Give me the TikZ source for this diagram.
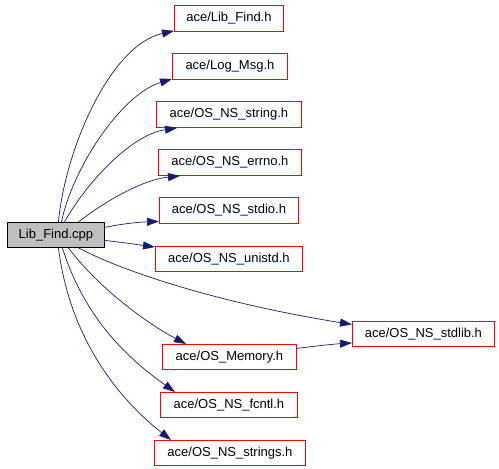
\documentclass[tikz,border=0pt]{standalone}
\usepackage{fontspec}
\setmainfont{Liberation Sans}
\usetikzlibrary{arrows.meta,calc}
\definecolor{edgeblue}{HTML}{191970}
\definecolor{cppgray}{HTML}{BFBFBF}
\begin{document}
\begin{tikzpicture}[x=1pt,y=-1pt,
  hdr/.style={draw=red,line width=0.9pt,rectangle,inner sep=0pt,anchor=north west,
     font=\fontsize{13}{15}\selectfont,minimum height=26pt},
  src/.style={hdr,draw=black,fill=cppgray},
  edge/.style={draw=edgeblue,line width=0.7pt,-{Triangle[length=12pt,width=8pt]}}]
\useasboundingbox (0,0) rectangle (499,469);
\node[src,minimum width=97pt,minimum height=25pt] (cpp) at (7,222) {Lib\_Find.cpp};
\node[hdr,minimum width=109pt] (lib) at (174,5) {ace/Lib\_Find.h};
\node[hdr,minimum width=115pt] (log) at (172,53) {ace/Log\_Msg.h};
\node[hdr,minimum width=145pt] (str) at (156,101) {ace/OS\_NS\_string.h};
\node[hdr,minimum width=143pt] (errno) at (158,149) {ace/OS\_NS\_errno.h};
\node[hdr,minimum width=139pt] (stdio) at (159,197) {ace/OS\_NS\_stdio.h};
\node[hdr,minimum width=147pt,minimum height=25pt] (unistd) at (155,246) {ace/OS\_NS\_unistd.h};
\node[hdr,minimum width=142pt,minimum height=25pt] (stdlib) at (352,321) {ace/OS\_NS\_stdlib.h};
\node[hdr,minimum width=134pt,minimum height=25pt] (mem) at (162,344) {ace/OS\_Memory.h};
\node[hdr,minimum width=137pt,minimum height=25pt] (fcntl) at (160,392) {ace/OS\_NS\_fcntl.h};
\node[hdr,minimum width=151pt,minimum height=25pt] (strs) at (154,440) {ace/OS\_NS\_strings.h};

\draw[edge] ($(cpp.north)+(2.5,0)$) .. controls (65,150) and (110,45) .. ($(lib.south west)+(0,-1)$);
\draw[edge] ($(cpp.north)+(5.5,0)$) .. controls (72,170) and (120,95) .. ($(log.south west)+(0,-1)$);
\draw[edge] ($(cpp.north)+(8.5,0)$) .. controls (85,185) and (130,135) .. ($(str.south west)+(21,0)$);
\draw[edge] ($(cpp.north)+(22.5,0)$) .. controls (100,205) and (140,180) .. ($(errno.south west)+(22,0)$);
\draw[edge] ($(cpp.east)+(0,-7.5)$) .. controls (120,224) and (140,222) .. ($(stdio.west)+(0,11)$);
\draw[edge] ($(cpp.east)+(0,5.5)$) .. controls (120,242) and (140,245) .. ($(unistd.north west)+(0,1)$);
\draw[edge] ($(cpp.south)+(22.5,0)$) .. controls (130,275) and (230,305) .. ($(stdlib.west)+(0,-9.5)$);
\draw[edge] ($(cpp.south)+(12.5,0)$) .. controls (100,290) and (150,325) .. ($(mem.north west)+(24,0)$);
\draw[edge] ($(cpp.south)+(6.5,0)$) .. controls (85,320) and (130,360) .. ($(fcntl.north west)+(15,0)$);
\draw[edge] ($(cpp.south)+(2.5,0)$) .. controls (70,340) and (120,400) .. ($(strs.north west)+(17,0)$);
\draw[edge] ($(mem.east)+(0,-8.5)$) .. controls (315,346) and (335,344) .. ($(stdlib.west)+(0,9)$);
\end{tikzpicture}
\end{document}
